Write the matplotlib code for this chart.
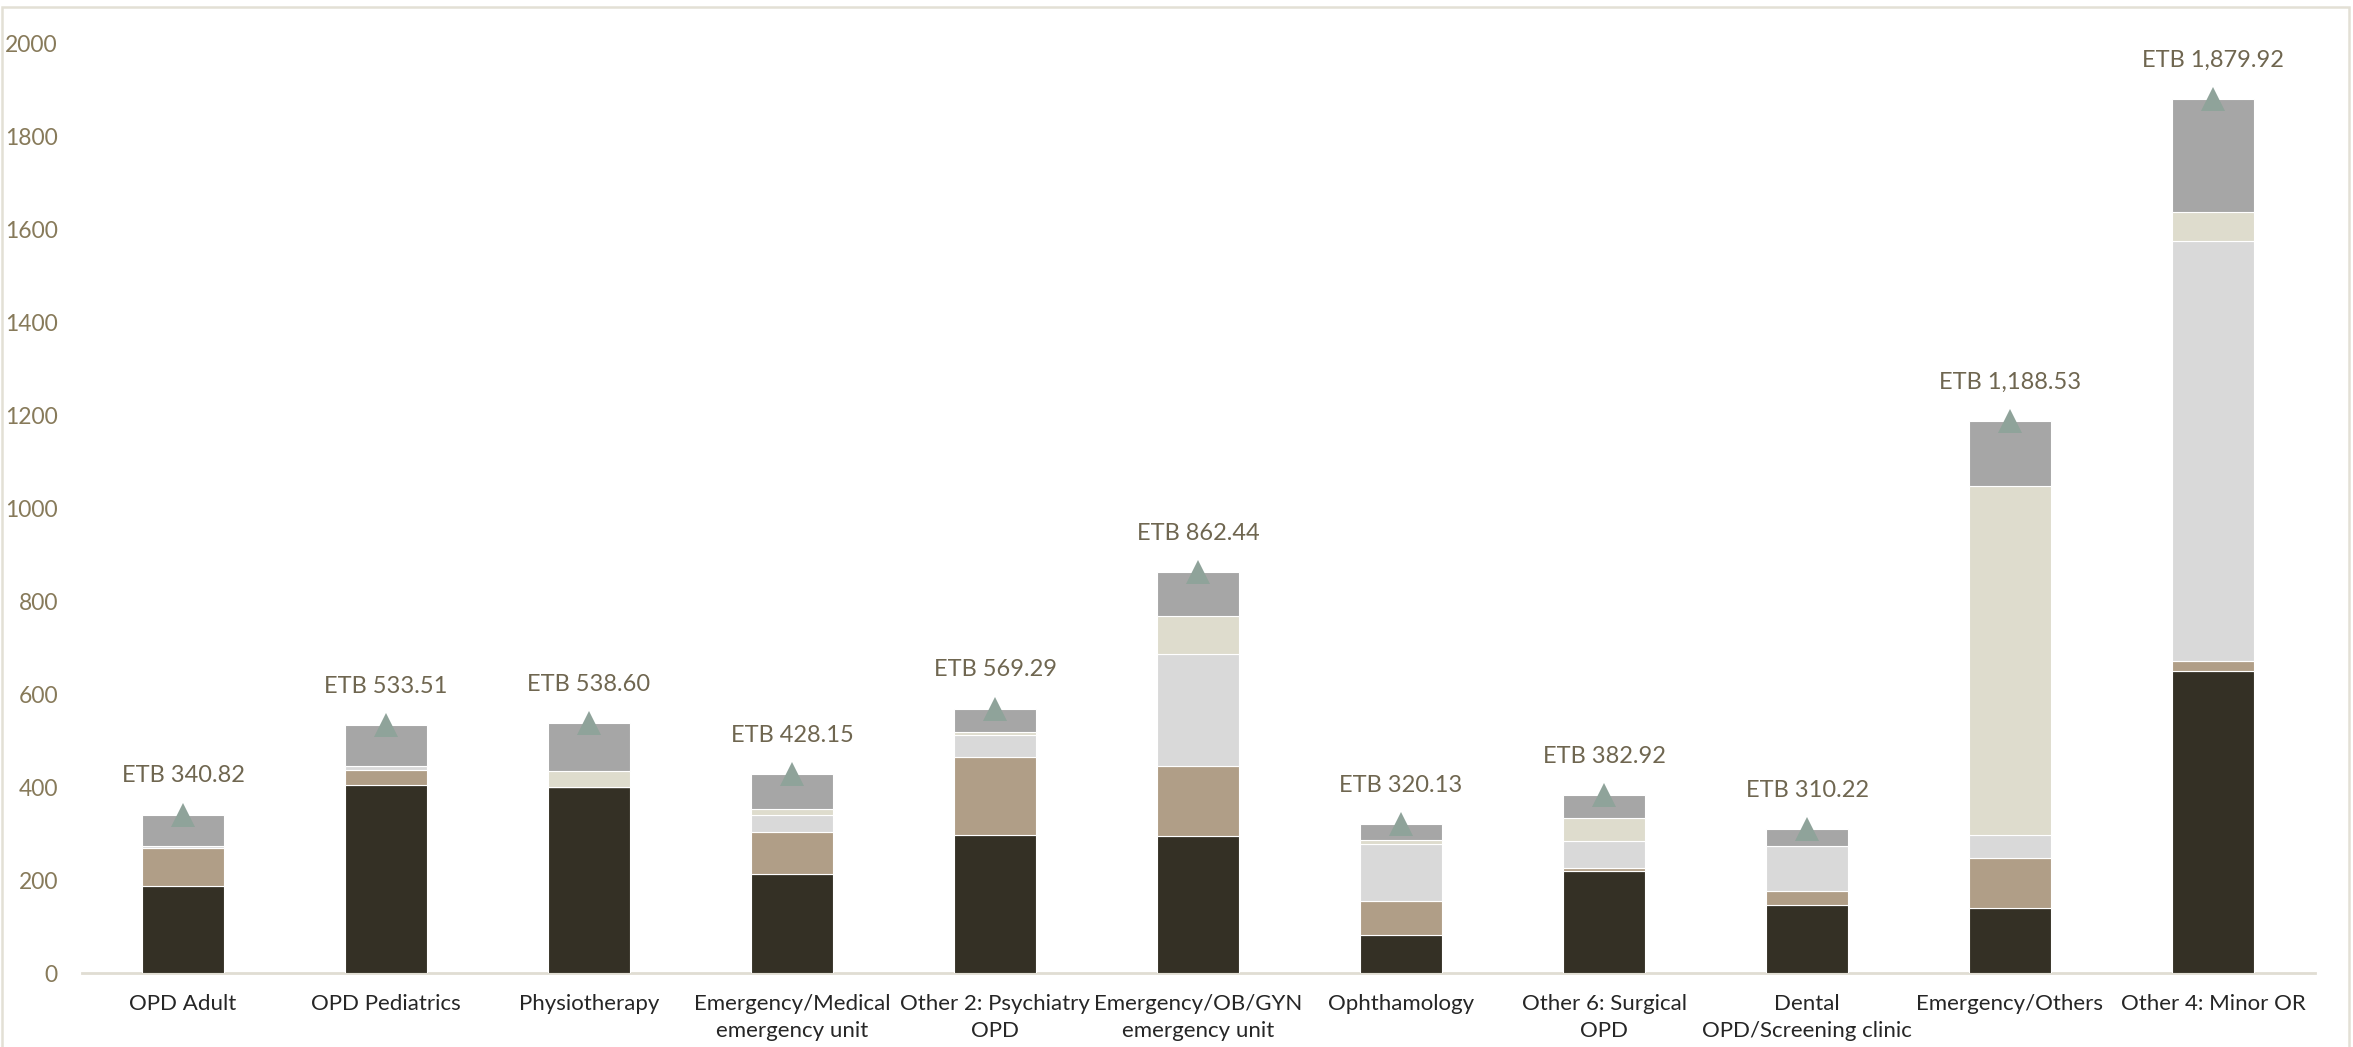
import matplotlib
matplotlib.use("Agg")
import matplotlib.pyplot as plt
from matplotlib.patches import Rectangle
import numpy as np

plt.rcParams['font.family'] = ['Lato', 'DejaVu Sans']

# Cost centres and unit-cost components (ETB)
categories = [
    "OPD Adult", "OPD Pediatrics", "Physiotherapy",
    "Emergency/Medical\nemergency unit", "Other 2: Psychiatry\nOPD",
    "Emergency/OB/GYN\nemergency unit", "Ophthamology",
    "Other 6: Surgical\nOPD", "Dental\nOPD/Screening clinic",
    "Emergency/Others", "Other 4: Minor OR",
]
comp_1 = [187.5, 404.0, 400.0, 212.6, 296.5, 295.7, 82.0, 221.0, 146.7, 140.7, 650.7]
comp_2 = [82.7, 33.0, 0.0, 91.2, 169.3, 150.7, 74.0, 5.0, 31.0, 108.1, 21.1]
comp_3 = [4.3, 9.0, 0.0, 36.1, 47.7, 240.6, 121.6, 58.0, 95.3, 47.8, 903.2]
comp_4 = [0.0, 0.0, 36.0, 14.5, 5.0, 82.0, 8.7, 50.0, 0.0, 751.2, 63.3]
comp_5 = [66.32, 87.51, 102.6, 73.75, 50.79, 93.44, 33.83, 48.92, 37.22, 140.73, 241.62]
totals = [340.82, 533.51, 538.60, 428.15, 569.29, 862.44, 320.13, 382.92, 310.22, 1188.53, 1879.92]
y_ticks = [0, 200, 400, 600, 800, 1000, 1200, 1400, 1600, 1800, 2000]

components = [comp_1, comp_2, comp_3, comp_4, comp_5]
colors = ["#343025", "#b09e87", "#d9d9d9", "#dedccd", "#a6a6a6"]

W, H = 2353, 1047
fig = plt.figure(figsize=(W / 100, H / 100), dpi=100)
ax = fig.add_axes([81.5 / W, 73.7 / H, (2314.5 - 81.5) / W, (1003.5 - 73.7) / H])

x = np.arange(len(categories))
bottom = np.zeros(len(categories))
for vals, col in zip(components, colors):
    vals = np.array(vals)
    ax.bar(x, vals, width=0.4, bottom=bottom, color=col,
           edgecolor="white", linewidth=0.8, zorder=2)
    bottom += vals

# Total markers and labels
ax.plot(x, totals, linestyle="none", marker="^", markersize=17,
        color="#8fa39a", markeredgewidth=0, zorder=3, clip_on=False)
for xi, t in zip(x, totals):
    ax.annotate(f"ETB {t:,.2f}", (xi, t), xytext=(0, 28),
                textcoords="offset points", ha="center", va="center",
                fontsize=17, color="#6f6650", annotation_clip=False)

ax.set_xlim(-0.5, len(categories) - 0.5)
ax.set_ylim(0, 2000)
ax.set_yticks(y_ticks)
ax.set_yticklabels([str(v) for v in y_ticks])
ax.set_xticks(x)
ax.set_xticklabels(categories, linespacing=1.45)

ax.tick_params(axis="y", length=0, pad=17, labelsize=16.5, labelcolor="#877a5a")
ax.tick_params(axis="x", length=0, pad=15, labelsize=16, labelcolor="#262626")

for side in ["top", "right", "left"]:
    ax.spines[side].set_visible(False)
ax.spines["bottom"].set_color("#e0ddd3")
ax.spines["bottom"].set_linewidth(2)
ax.spines["bottom"].set_zorder(1)

# Chart frame
fig.patches.append(Rectangle((1.5 / W, -0.02), (2349 - 1.5) / W, (1040 / H) + 0.02,
                             transform=fig.transFigure, fill=False,
                             edgecolor="#e3e0d5", linewidth=1.8))

fig.savefig("out.png", dpi=100, facecolor="white")
